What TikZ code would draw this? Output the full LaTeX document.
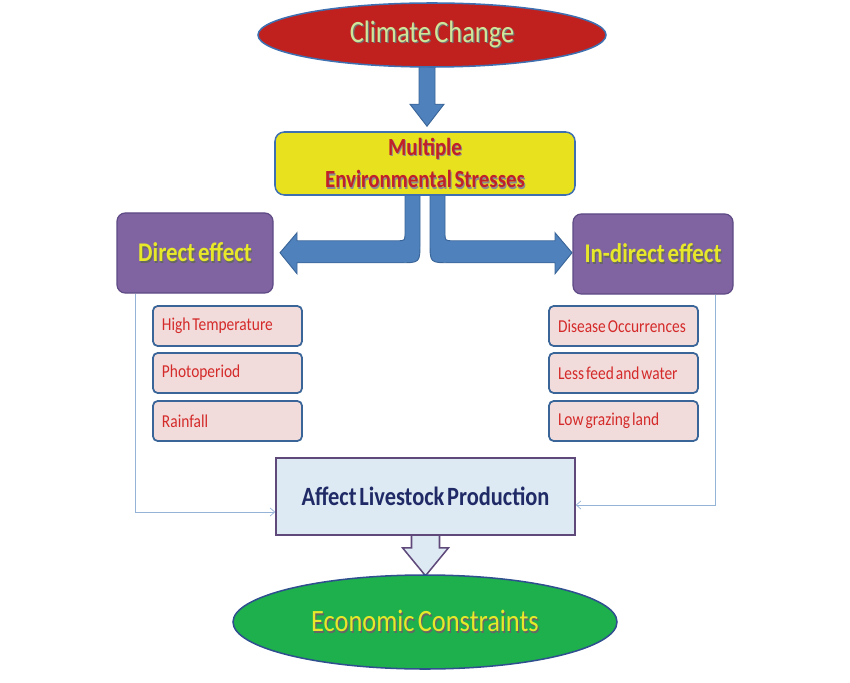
\documentclass[tikz,border=0pt]{standalone}
\usepackage{fontspec}
\setmainfont{Carlito}[FakeStretch=0.85, WordSpace=0.55]
\usetikzlibrary{arrows.meta,positioning,calc,shapes.geometric,backgrounds}
\definecolor{ccred}{HTML}{C0211F}
\definecolor{ccgreen}{HTML}{CFE59A}
\definecolor{edgeblue}{HTML}{3E6FB0}
\definecolor{stressyel}{HTML}{E8E21E}
\definecolor{stressred}{HTML}{C0202A}
\definecolor{effpurple}{HTML}{8064A2}
\definecolor{effedge}{HTML}{5E4A85}
\definecolor{effyel}{HTML}{E8E82A}
\definecolor{itempink}{HTML}{F2DCDB}
\definecolor{itemred}{HTML}{D42A2A}
\definecolor{arrblue}{HTML}{4F81BD}
\definecolor{arredge}{HTML}{3A6598}
\definecolor{linkblue}{HTML}{95B3D7}
\definecolor{prodfill}{HTML}{DEEAF3}
\definecolor{prodedge}{HTML}{5F497A}
\definecolor{prodtext}{HTML}{1F2A66}
\definecolor{ecogreen}{HTML}{1EB04C}
\definecolor{ecoedge}{HTML}{2F4F8F}
% text with a dark drop shadow
\newcommand\shadowed[2]{\leavevmode\rlap{\raisebox{-0.05em}{\hspace{0.04em}\color{#1}#2}}#2}
% left-set label of an item box
\newcommand\itemlabel[1]{\makebox[3.93cm][l]{#1}}
\tikzset{
  oval/.style={ellipse, draw=#1, line width=1.3pt, inner sep=0pt},
  effbox/.style={rectangle, rounded corners=7pt, draw=effedge, line width=1pt, fill=effpurple,
                 text=effyel, font=\bfseries\fontsize{23}{26}\selectfont, minimum height={80*0.03cm}},
  itembox/.style={rectangle, rounded corners=4pt, draw=arredge, line width=1.5pt, fill=itempink,
                  text=itemred, font=\fontsize{15.5}{17}\selectfont, minimum height={40*0.03cm},
                  inner xsep={9*0.03cm}},
  blockarr/.style={fill=arrblue, draw=arredge, line width=0.8pt},
  feed/.style={-{Straight Barb[length=4pt,width=7pt]}, line width=0.6pt, draw=linkblue},
}
\begin{document}
\begin{tikzpicture}[x=0.03cm, y=-0.03cm]
  \useasboundingbox (0,0) rectangle (850,683);
  \node[oval=edgeblue, fill=ccred, minimum width={348*0.03cm}, minimum height={64*0.03cm},
        text=ccgreen, font=\fontsize{26.5}{28}\selectfont] (climate) at (432,35)
        {\shadowed{black!55}{Climate Change}};
  \node[rectangle, rounded corners=8pt, draw=edgeblue, line width=1.3pt, fill=stressyel,
        minimum width={300*0.03cm}, minimum height={63*0.03cm}, align=center, text=stressred,
        font=\bfseries\fontsize{21}{28}\selectfont] (stress) at (425,163.5)
        {\shadowed{black!45}{Multiple}\\\shadowed{black!45}{Environmental Stresses}};
  \node[effbox, minimum width={156*0.03cm}] (direct) at (195,253) {\shadowed{black!60}{Direct effect}};
  \node[effbox, minimum width={160*0.03cm}] (indirect) at (653,254) {\shadowed{black!60}{In-direct effect}};
  % direct effects
  \node[itembox] (temp) at (227.5,326) {\itemlabel{High Temperature}};
  \node[itembox] (photo) at (227.5,373) {\itemlabel{Photoperiod}};
  \node[itembox] (rain) at (227.5,421) {\itemlabel{Rainfall}};
  % indirect effects
  \node[itembox] (disease) at (623.5,326) {\itemlabel{Disease Occurrences}};
  \node[itembox] (feedw) at (623.5,373) {\itemlabel{Less feed and water}};
  \node[itembox] (graze) at (623.5,421) {\itemlabel{Low grazing land}};
  \node[rectangle, draw=prodedge, line width=1.3pt, fill=prodfill, minimum width={299*0.03cm},
        minimum height={77*0.03cm}, text=prodtext, font=\bfseries\fontsize{22.5}{24}\selectfont]
        (prod) at (425.5,496.5) {Affect Livestock Production};
  \node[oval=ecoedge, fill=ecogreen, minimum width={384*0.03cm}, minimum height={94*0.03cm},
        text=effyel, font=\fontsize{26.5}{28}\selectfont] (econ) at (425,622)
        {\shadowed{black!60}{Economic Constraints}};
  \begin{pgfonlayer}{background}
    % climate -> stresses
    \begin{scope}[shift={(stress.north)}]
      \draw[blockarr] (-6,-70) -- (-6,-27) -- (-15,-27) -- (2,-5) -- (19,-27) -- (10,-27) -- (10,-70) -- cycle;
    \end{scope}
    % stresses -> direct / indirect
    \begin{scope}[shift={(stress.south)}]
      \draw[blockarr] (-20,-2) -- (-20,37) .. controls (-20,45) .. (-28,45) -- (-128,45) -- (-128,37)
        -- (-145,57) -- (-128,78) -- (-128,67) -- (-25,67) .. controls (-5,67) .. (-5,47) -- (-5,-2) -- cycle;
      \draw[blockarr] (20,-2) -- (20,37) .. controls (20,45) .. (28,45) -- (130,45) -- (130,37)
        -- (147,57) -- (130,78) -- (130,67) -- (25,67) .. controls (5,67) .. (5,47) -- (5,-2) -- cycle;
    \end{scope}
    % production -> economy
    \begin{scope}[shift={(prod.south)}]
      \draw[fill=prodfill, draw=prodedge, line width=1.3pt]
        (-14,-2) -- (-14,12) -- (-23,12) -- (0,40) -- (23,12) -- (14,12) -- (14,-2);
    \end{scope}
  \end{pgfonlayer}
  \draw[feed] ($(direct.south west)+(19,0)$) |- ($(prod.west)+(0,15.5)$);
  \draw[feed] ($(indirect.south east)+(-18,0)$) |- ($(prod.east)+(0,8.5)$);
\end{tikzpicture}
\end{document}
